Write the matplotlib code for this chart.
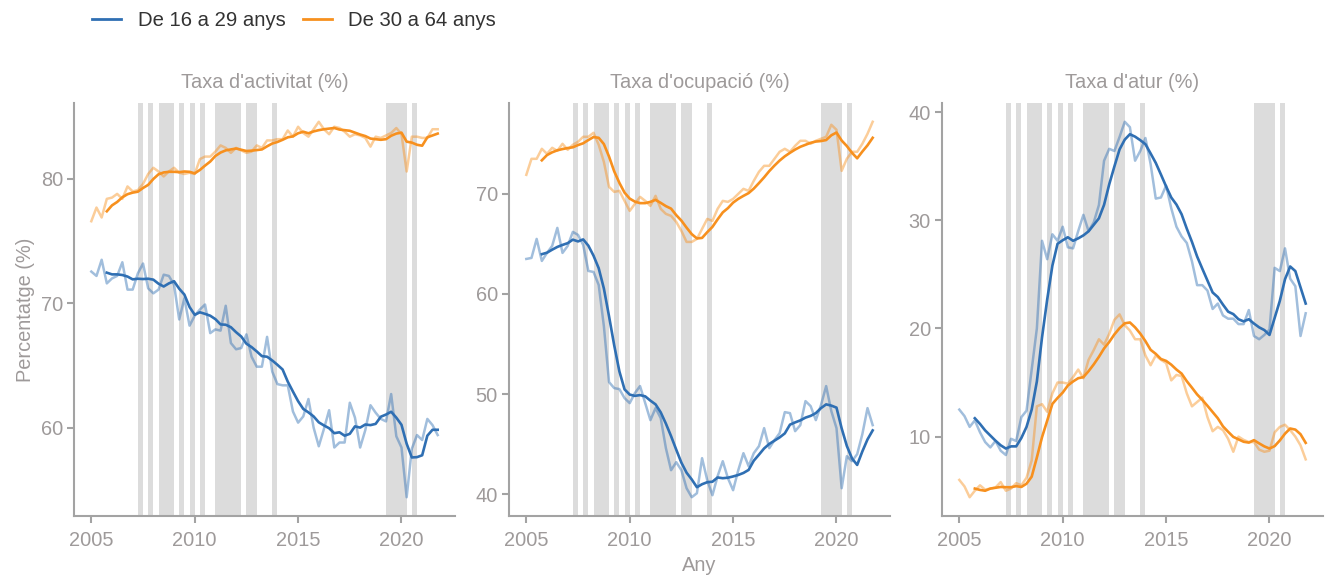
import matplotlib
matplotlib.use("Agg")
import matplotlib.pyplot as plt
import numpy as np
import pandas as pd

plt.rcParams['font.family'] = ['Liberation Sans', 'DejaVu Sans']

# trimestres 2005T1 - 2021T4
anys = np.repeat(np.arange(2005, 2022), 4)
trimestre = np.tile([1, 2, 3, 4], 17)

activitat_jove = [72.55, 72.2, 73.5, 71.6, 72.0, 72.2, 73.3, 71.1,
                  71.1, 72.4, 73.2, 71.2, 70.8, 71.1, 72.3, 72.2,
                  71.5, 68.7, 70.4, 68.2, 69.0, 69.5, 69.9, 67.6,
                  67.9, 67.8, 69.8, 66.8, 66.3, 66.4, 67.5, 65.7,
                  64.9, 64.9, 67.3, 64.5, 63.5, 63.4, 63.4, 61.3,
                  60.4, 60.9, 62.3, 60.0, 58.5, 59.9, 61.4, 58.4,
                  58.8, 58.8, 62.0, 60.8, 58.4, 59.8, 61.8, 61.2,
                  60.7, 60.5, 62.7, 59.3, 58.4, 54.4, 58.3, 59.4,
                  59.0, 60.7, 60.2, 59.4]
activitat_adult = [76.6, 77.7, 76.9, 78.4, 78.5, 78.8, 78.4, 79.4,
                   79.0, 79.1, 79.6, 80.4, 80.9, 80.6, 80.2, 80.6,
                   80.9, 80.5, 80.4, 80.5, 80.4, 81.6, 81.8, 81.8,
                   82.2, 82.7, 82.5, 82.1, 82.5, 82.3, 82.1, 82.2,
                   82.7, 82.5, 83.1, 83.1, 83.2, 83.2, 83.9, 83.4,
                   84.2, 83.7, 83.4, 84.0, 84.6, 84.0, 83.6, 84.2,
                   84.1, 83.8, 83.4, 83.6, 83.5, 83.3, 82.6, 83.4,
                   83.3, 83.5, 83.7, 84.1, 83.6, 80.6, 83.4, 83.4,
                   83.3, 83.3, 84.0, 84.0]

ocupacio_jove = [63.5, 63.6, 65.5, 63.3, 64.1, 64.8, 66.6, 64.1,
                 64.8, 66.2, 65.9, 64.9, 62.3, 62.2, 60.9, 56.8,
                 51.2, 50.6, 50.5, 49.6, 49.1, 50.1, 50.8, 49.1,
                 47.4, 48.6, 47.6, 44.6, 42.4, 43.2, 42.4, 40.6,
                 39.7, 40.1, 43.6, 41.4, 39.9, 41.8, 43.3, 41.6,
                 40.4, 42.4, 44.1, 42.8, 44.1, 44.8, 46.6, 44.6,
                 45.4, 46.1, 48.2, 48.1, 46.3, 46.9, 49.3, 48.8,
                 47.4, 48.9, 50.8, 48.3, 46.6, 40.6, 43.8, 43.3,
                 44.0, 46.0, 48.6, 46.9]
ocupacio_adult = [71.9, 73.5, 73.5, 74.5, 74.0, 74.6, 74.3, 75.0,
                  74.4, 74.9, 75.2, 75.7, 75.7, 76.1, 74.9, 73.2,
                  70.7, 70.2, 70.3, 69.3, 68.3, 69.0, 69.7, 69.3,
                  68.8, 69.8, 68.5, 68.0, 67.8, 67.2, 66.3, 65.2,
                  65.2, 65.5, 66.5, 67.5, 67.3, 68.5, 69.3, 69.2,
                  69.5, 70.0, 70.5, 70.3, 71.3, 72.2, 72.8, 72.8,
                  73.5, 74.2, 74.5, 74.2, 74.8, 75.3, 75.3, 75.0,
                  75.3, 75.5, 75.7, 76.9, 76.4, 72.3, 73.5, 74.2,
                  74.2, 75.0, 76.0, 77.2]

atur_jove = [12.5, 11.9, 10.9, 11.5, 10.4, 9.5, 9.0, 9.6,
             8.7, 8.3, 9.8, 9.6, 11.8, 12.4, 16.2, 20.0,
             28.1, 26.4, 28.7, 28.1, 29.4, 27.5, 27.4, 29.0,
             30.5, 29.0, 29.8, 31.4, 35.5, 36.6, 36.4, 37.7,
             39.1, 38.6, 35.5, 36.4, 37.6, 35.2, 32.0, 32.1,
             33.2, 31.1, 29.4, 28.5, 27.9, 26.2, 24.0, 24.0,
             23.5, 21.8, 22.3, 21.2, 20.9, 20.9, 20.4, 20.4,
             21.7, 19.3, 19.0, 19.4, 19.9, 25.6, 25.3, 27.4,
             24.6, 23.9, 19.3, 21.4]
atur_adult = [6.0, 5.4, 4.4, 5.0, 5.5, 5.1, 5.2, 5.3,
              5.8, 5.0, 5.2, 5.7, 5.5, 6.2, 7.8, 12.8,
              13.0, 12.3, 14.0, 15.0, 15.0, 14.9, 15.5, 16.2,
              15.4, 17.1, 18.0, 19.0, 18.5, 19.5, 20.8, 21.3,
              20.3, 19.8, 19.0, 19.0, 17.5, 16.6, 17.5, 17.1,
              16.8, 15.2, 15.7, 15.6, 14.0, 12.8, 13.2, 13.6,
              11.8, 10.5, 10.9, 10.6, 9.8, 8.6, 10.0, 9.7,
              9.5, 9.5, 8.8, 8.6, 8.7, 10.4, 10.9, 11.1,
              10.6, 10.0, 9.2, 7.9]

# trimestres ombrejats (any, trimestre)
ombra = [(2007, 2), (2007, 4), (2008, 2), (2008, 3), (2008, 4), (2009, 2),
         (2009, 4), (2010, 2), (2011, 1), (2011, 2), (2011, 3), (2011, 4),
         (2012, 1), (2012, 3), (2012, 4), (2013, 4), (2019, 2), (2019, 3),
         (2019, 4), (2020, 1), (2020, 3)]

titols = ["Taxa d'activitat (%)", "Taxa d'ocupació (%)", "Taxa d'atur (%)"]
grups = ["De 16 a 29 anys", "De 30 a 64 anys"]
blau = "#2f6fb3"
taronja = "#f7901e"
gris = "#9e9a9a"

t = anys + (trimestre - 1) / 4
panells = [(activitat_jove, activitat_adult),
           (ocupacio_jove, ocupacio_adult),
           (atur_jove, atur_adult)]

fig = plt.figure(figsize=(13.25, 5.75), dpi=100)
lefts = [74, 509, 942]
W, H = 1325, 575

for i, (jove, adult) in enumerate(panells):
    ax = fig.add_axes([lefts[i] / W, 1 - 516 / H, 381 / W, 413 / H])
    for a, q in ombra:
        x0 = a + (q - 1) / 4
        ax.axvspan(x0, x0 + 0.25, color="#dcdcdc", lw=0, zorder=0)
    for serie, col in [(jove, blau), (adult, taronja)]:
        s = pd.Series(serie)
        ax.plot(t, s, color=col, alpha=0.45, lw=1.8, zorder=2)
        ax.plot(t, s.rolling(4).mean(), color=col, lw=1.9, zorder=3)
    allv = np.array(jove + adult)
    rng = allv.max() - allv.min()
    ax.set_ylim(allv.min() - 0.05 * rng, allv.max() + 0.05 * rng)
    ax.set_xlim(2005 - 0.05 * 16.75, 2021.75 + 0.05 * 16.75)
    ax.set_xticks([2005, 2010, 2015, 2020])
    ax.set_yticks([v for v in range(0, 100, 10) if ax.get_ylim()[0] < v < ax.get_ylim()[1]])
    for sp in ["top", "right"]:
        ax.spines[sp].set_visible(False)
    for sp in ["left", "bottom"]:
        ax.spines[sp].set_color("#a3a3a3")
        ax.spines[sp].set_linewidth(1.5)
    ax.tick_params(colors="#a3a3a3", labelcolor=gris, labelsize=14.4,
                   length=5, width=1.5)
    ax.tick_params(axis="x", pad=6)
    ax.tick_params(axis="y", pad=3)
    ax.set_title(titols[i], color=gris, fontsize=14.4, pad=11)
    if i == 0:
        ax.set_ylabel("Percentatge (%)", color=gris, fontsize=14.4, labelpad=4)
    if i == 1:
        ax.set_xlabel("Any", color=gris, fontsize=14.4, labelpad=4)

handles = [plt.Line2D([], [], color=blau, lw=2),
           plt.Line2D([], [], color=taronja, lw=2)]
fig.legend(handles, grups, loc="center left", bbox_to_anchor=(92 / W, 1 - 21 / H),
           ncol=2, frameon=False, fontsize=14.6, handlelength=1.45,
           handletextpad=0.8, columnspacing=0.85, borderpad=0, borderaxespad=0,
           labelcolor="#333333")

fig.savefig("out.png", dpi=100)
